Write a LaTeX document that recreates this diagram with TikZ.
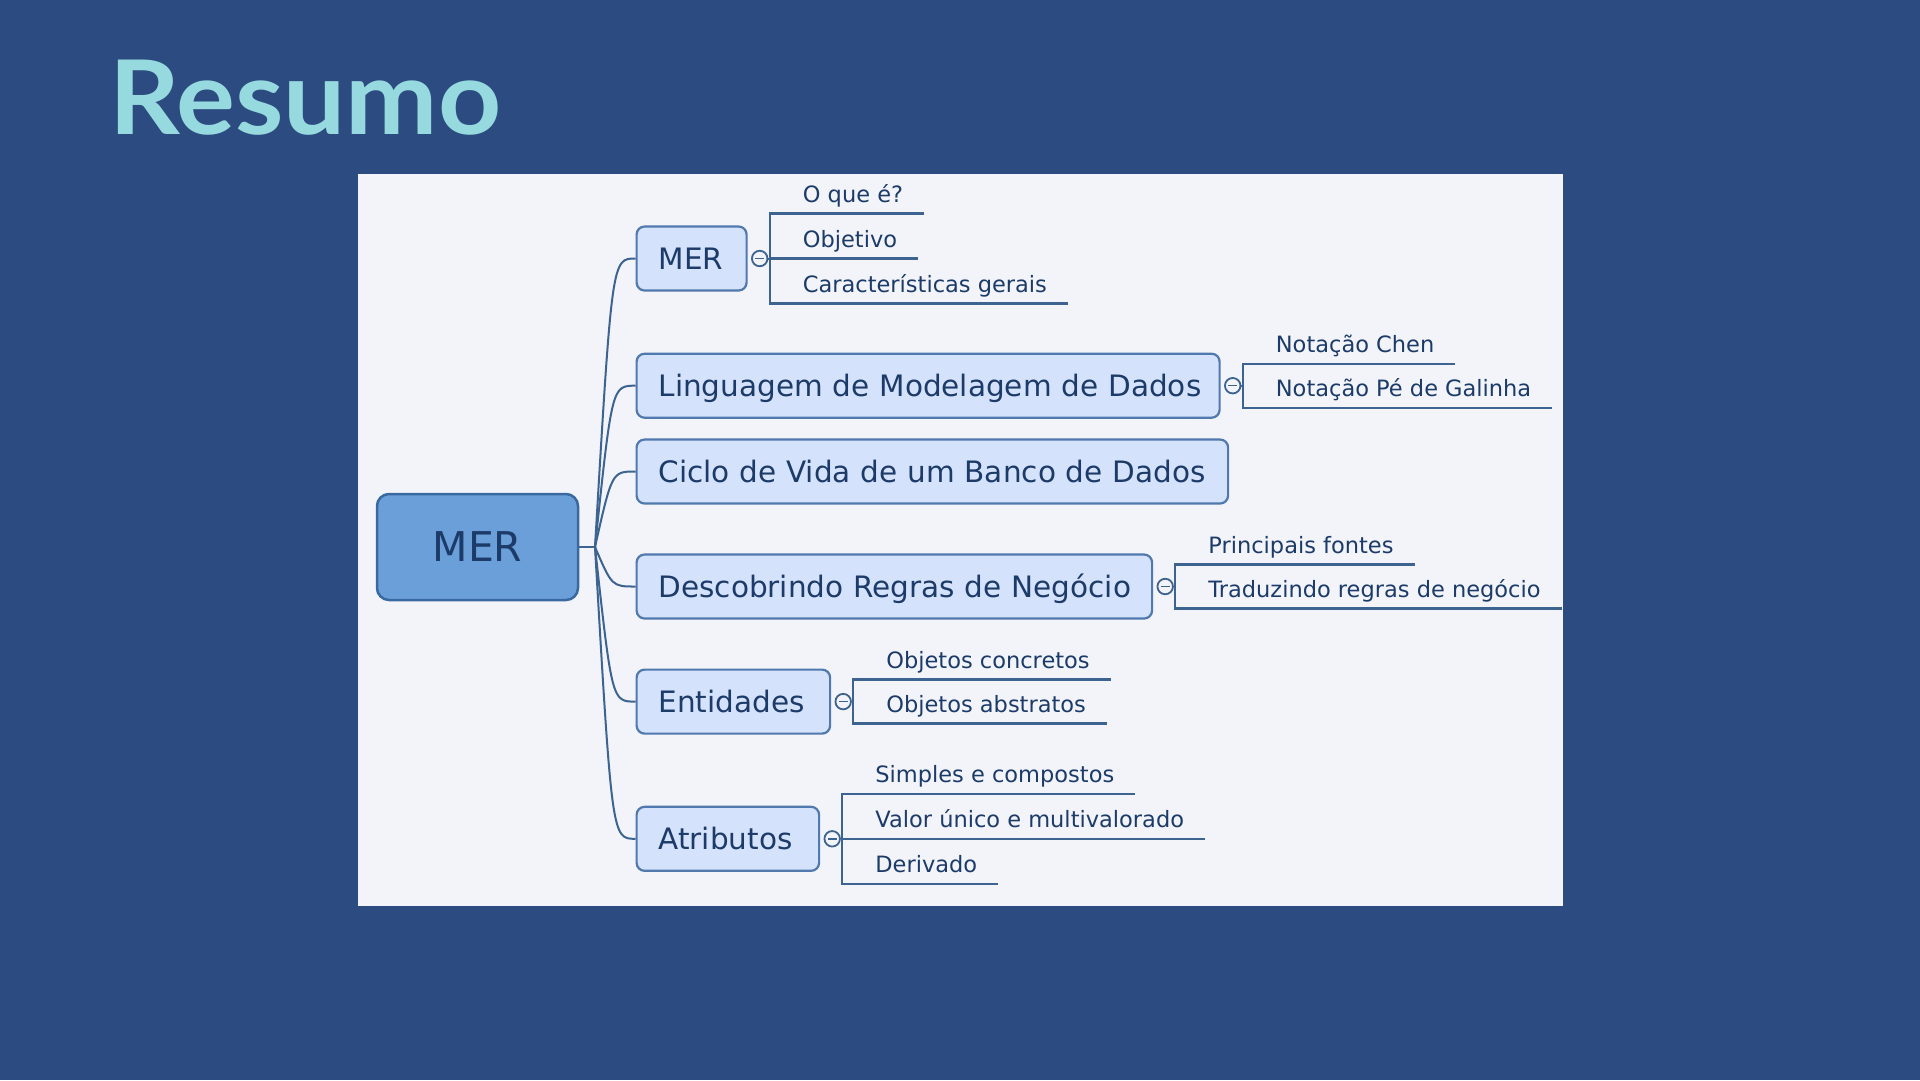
\documentclass[tikz,border=0pt]{standalone}
\usepackage{fontspec}
\setmainfont{DejaVu Sans}
\newfontfamily\titlefont[FakeStretch=1.07]{Lato}
\usetikzlibrary{calc}
\definecolor{bg}{HTML}{2C4B80}
\definecolor{titlec}{HTML}{96DADF}
\definecolor{panel}{HTML}{F2F4F9}
\definecolor{rootfill}{HTML}{6A9FDA}
\definecolor{rootdraw}{HTML}{3A68A0}
\definecolor{boxfill}{HTML}{D5E2FB}
\definecolor{boxdraw}{HTML}{5079AD}
\definecolor{ink}{HTML}{1C3B69}
\definecolor{wirec}{HTML}{3D6391}
\begin{document}
\begin{tikzpicture}[x=1pt,y=-1pt,
  rootbox/.style={draw=rootdraw, fill=rootfill, line width=2.5pt, rounded corners=12pt,
    minimum width=201pt, minimum height=106pt, inner sep=0pt,
    font=\fontsize{41}{49}\selectfont, text=ink},
  topicbox/.style={draw=boxdraw, fill=boxfill, line width=2.2pt, rounded corners=8pt,
    minimum height=64pt, anchor=west, inner xsep=22pt, inner ysep=0pt, align=left,
    text height=27pt, text depth=5.5pt,
    font=\fontsize{29.5}{35}\selectfont, text=ink},
  leaf/.style={anchor=base west, inner sep=0pt, font=\fontsize{22.5}{27}\selectfont, text=ink},
  toggle/.style={circle, draw=wirec, fill=panel, line width=1.8pt, minimum size=15.5pt, inner sep=0pt},
  wire/.style={draw=wirec, line width=2pt},
  bracket/.style={draw=wirec, line width=2.3pt, line join=miter}
]
% background and panel
\path[fill=bg] (0,0) rectangle (1920,1080);
\path[fill=panel] (357.5,174) rectangle (1562.5,906);

% title
\node[anchor=base west, inner sep=0pt, text=titlec,
  font=\titlefont\bfseries\fontsize{103}{115}\selectfont] (title) at (109,134) {Resumo};

% root and topics
\node[rootbox] (root) at (477.5,547) {MER};
\node[topicbox, text width=66pt]    (c1) at (635.5,258.5) {\mbox{MER}};
\node[topicbox, text width=539pt]   (c2) at (635.5,385.7) {\mbox{Linguagem de Modelagem de Dados}};
\node[topicbox, text width=547.5pt] (c3) at (635.5,471.5) {\mbox{Ciclo de Vida de um Banco de Dados}};
\node[topicbox, text width=471.5pt] (c4) at (635.5,586.5) {\mbox{Descobrindo Regras de Negócio}};
\node[topicbox, text width=149.5pt] (c5) at (635.5,701.6) {\mbox{Entidades}};
\node[topicbox, text width=138.5pt] (c6) at (635.5,838.8) {\mbox{Atributos}};

% root connectors
\coordinate (J) at (595,547);
\draw[wire] (root.east) -- (J);
\foreach \n in {c1,c2,c3,c4,c5,c6}
  \draw[wire] (J) .. controls ($(\n.west)+(-23.5,0)$) .. (\n.west);

% ---- MER subtopics
\node[toggle] (t1) at ($(c1.east)+(12,0)$) {};
\coordinate (b1) at ($(c1.east)+(22,0)$);
\draw[wire] (t1.east) -- (b1);
\node[leaf] (l11) at ($(b1)+(33,-56)$) {O que é?};
\node[leaf] (l12) at ($(b1)+(33,-11)$) {Objetivo};
\node[leaf] (l13) at ($(b1)+(33,34)$) {Características gerais};
\draw[bracket] ($(l11.base east)+(21,11)$) -- ($(b1)+(0,-45)$) -- ($(b1)+(0,45)$) -- ($(l13.base east)+(21,11)$);
\draw[bracket] (b1) -- ($(l12.base east)+(21,11)$);

% ---- Linguagem subtopics
\node[toggle] (t2) at ($(c2.east)+(12,0)$) {};
\coordinate (b2) at ($(c2.east)+(22,0)$);
\draw[wire] (t2.east) -- (b2);
\node[leaf] (l21) at ($(b2)+(33,-33)$) {Notação Chen};
\node[leaf] (l22) at ($(b2)+(33,11)$) {Notação Pé de Galinha};
\draw[bracket] ($(l21.base east)+(21,11)$) -- ($(b2)+(0,-22)$) -- ($(b2)+(0,22)$) -- ($(l22.base east)+(21,11)$);

% ---- Descobrindo subtopics
\node[toggle] (t4) at ($(c4.east)+(12,0)$) {};
\coordinate (b4) at ($(c4.east)+(22,0)$);
\draw[wire] (t4.east) -- (b4);
\node[leaf] (l41) at ($(b4)+(33,-33)$) {Principais fontes};
\node[leaf] (l42) at ($(b4)+(33,11)$) {Traduzindo regras de negócio};
\draw[bracket] ($(l41.base east)+(21,11)$) -- ($(b4)+(0,-22)$) -- ($(b4)+(0,22)$) -- ($(l42.base east)+(21,11)$);

% ---- Entidades subtopics
\node[toggle] (t5) at ($(c5.east)+(12,0)$) {};
\coordinate (b5) at ($(c5.east)+(22,0)$);
\draw[wire] (t5.east) -- (b5);
\node[leaf] (l51) at ($(b5)+(33,-33)$) {Objetos concretos};
\node[leaf] (l52) at ($(b5)+(33,11)$) {Objetos abstratos};
\draw[bracket] ($(l51.base east)+(21,11)$) -- ($(b5)+(0,-22)$) -- ($(b5)+(0,22)$) -- ($(l52.base east)+(21,11)$);

% ---- Atributos subtopics
\node[toggle] (t6) at ($(c6.east)+(12,0)$) {};
\coordinate (b6) at ($(c6.east)+(22,0)$);
\draw[wire] (t6.east) -- (b6);
\node[leaf] (l61) at ($(b6)+(33,-56)$) {Simples e compostos};
\node[leaf] (l62) at ($(b6)+(33,-11)$) {Valor único e multivalorado};
\node[leaf] (l63) at ($(b6)+(33,34)$) {Derivado};
\draw[bracket] ($(l61.base east)+(21,11)$) -- ($(b6)+(0,-45)$) -- ($(b6)+(0,45)$) -- ($(l63.base east)+(21,11)$);
\draw[bracket] (b6) -- ($(l62.base east)+(21,11)$);

% minus signs in toggles
\foreach \t in {t1,t2,t4,t5,t6}
  \draw[draw=wirec, line width=1.5pt] ($(\t.center)+(-4.5,0)$) -- ($(\t.center)+(4.5,0)$);
\end{tikzpicture}
\end{document}
